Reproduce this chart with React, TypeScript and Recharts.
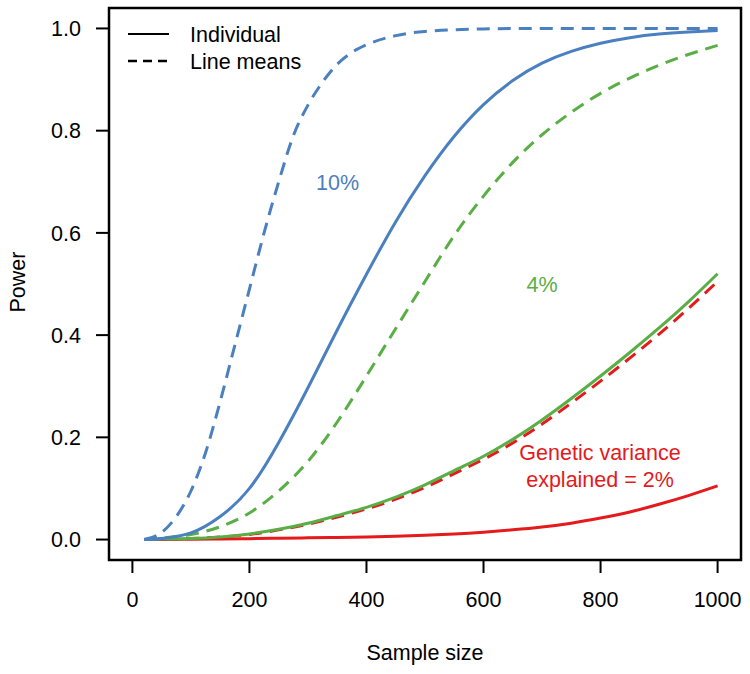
import React from 'react';
import { LineChart, Line, XAxis, YAxis, ReferenceArea, Customized } from 'recharts';

// Sample sizes (fine grid for the steep 10% line-means curve)
const sizesFine = [20, 50, 75, 100, 125, 150, 175, 200, 225, 250, 275, 300, 325, 350, 375, 400, 450, 500, 600, 700, 800, 900, 1000];
const sizes = [20, 50, 100, 150, 200, 250, 300, 350, 400, 450, 500, 550, 600, 650, 700, 750, 800, 850, 900, 950, 1000];

// 10% genetic variance explained
const blueLineMeans = [0, 0.014, 0.045, 0.095, 0.17, 0.27, 0.38, 0.49, 0.6, 0.7, 0.79, 0.85, 0.895, 0.93, 0.953, 0.968, 0.986, 0.994, 0.999, 1, 1, 1, 1];
const blueIndividual = [0, 0.002, 0.013, 0.045, 0.1, 0.19, 0.297, 0.41, 0.519, 0.622, 0.712, 0.789, 0.851, 0.898, 0.932, 0.955, 0.971, 0.982, 0.989, 0.993, 0.996];

// 4% genetic variance explained
const greenLineMeans = [0, 0.003, 0.01, 0.025, 0.052, 0.095, 0.153, 0.23, 0.32, 0.413, 0.505, 0.595, 0.672, 0.738, 0.792, 0.836, 0.873, 0.903, 0.928, 0.949, 0.967];
const greenIndividual = [0, 0.001, 0.002, 0.005, 0.011, 0.02, 0.032, 0.047, 0.063, 0.083, 0.107, 0.135, 0.163, 0.196, 0.234, 0.276, 0.32, 0.366, 0.414, 0.465, 0.52];

// 2% genetic variance explained
const redLineMeans = [0, 0.001, 0.002, 0.005, 0.01, 0.019, 0.03, 0.044, 0.06, 0.079, 0.102, 0.129, 0.157, 0.189, 0.226, 0.267, 0.31, 0.355, 0.402, 0.452, 0.505];
const redIndividual = [0, 0, 0.0005, 0.001, 0.0017, 0.0025, 0.0033, 0.004, 0.005, 0.0065, 0.0085, 0.011, 0.0145, 0.019, 0.0245, 0.032, 0.042, 0.054, 0.069, 0.086, 0.105];

const xTicks = [0, 200, 400, 600, 800, 1000];
const yTicks = [0, 0.2, 0.4, 0.6, 0.8, 1.0];

const BLUE = '#4A80C0';
const GREEN = '#59AE45';
const RED = '#E41A1C';
const FONT = '"Liberation Sans", Arial, sans-serif';
const FS = 21.5;

const mk = (xs: number[], ys: number[]) => xs.map((x, i) => ({ x, y: ys[i] }));

const Annotations = () => (
  <g fontFamily={FONT} fontSize={FS}>
    {/* legend */}
    <line x1={128} x2={169} y1={34} y2={34} stroke="#000" strokeWidth={2} />
    <line x1={128} x2={169} y1={61} y2={61} stroke="#000" strokeWidth={2.5} strokeDasharray="9 6" />
    <text x={190} y={42} fill="#000">Individual</text>
    <text x={190} y={69} fill="#000">Line means</text>
    {/* curve labels */}
    <text x={337.5} y={190} fill={BLUE} textAnchor="middle">10%</text>
    <text x={542} y={292} fill={GREEN} textAnchor="middle">4%</text>
    <text x={600} y={460} fill={RED} textAnchor="middle">Genetic variance</text>
    <text x={600} y={486.5} fill={RED} textAnchor="middle">explained = 2%</text>
    {/* axis titles */}
    <text x={425} y={660} fill="#000" textAnchor="middle">Sample size</text>
    <text x={25} y={282} fill="#000" textAnchor="middle" transform="rotate(-90 25 282)">Power</text>
  </g>
);

export default function App() {
  return (
    <div style={{ position: 'absolute', left: 0, top: 0 }}>
      <LineChart width={750} height={674} margin={{ top: 8, right: 9, left: 0, bottom: 0 }}>
        <XAxis
          dataKey="x"
          type="number"
          domain={[-40, 1040]}
          ticks={xTicks}
          allowDataOverflow
          axisLine={false}
          tickSize={13}
          tickMargin={19}
          height={114}
          tickLine={{ stroke: '#000', strokeWidth: 2 }}
          tick={{ fill: '#000', fontSize: FS, fontFamily: FONT }}
          interval={0}
        />
        <YAxis
          type="number"
          domain={[-0.04, 1.04]}
          ticks={yTicks}
          allowDataOverflow
          axisLine={false}
          tickSize={13}
          tickMargin={15}
          width={109}
          tickLine={{ stroke: '#000', strokeWidth: 2 }}
          tick={{ fill: '#000', fontSize: FS, fontFamily: FONT }}
          tickFormatter={(v: number) => v.toFixed(1)}
          interval={0}
        />
        <Line data={mk(sizes, redIndividual)} dataKey="y" type="natural" stroke={RED} strokeWidth={3} dot={false} isAnimationActive={false} />
        <Line data={mk(sizes, redLineMeans)} dataKey="y" type="natural" stroke={RED} strokeWidth={3} strokeDasharray="13 8" dot={false} isAnimationActive={false} />
        <Line data={mk(sizes, greenLineMeans)} dataKey="y" type="natural" stroke={GREEN} strokeWidth={3} strokeDasharray="13 8" dot={false} isAnimationActive={false} />
        <Line data={mk(sizes, greenIndividual)} dataKey="y" type="natural" stroke={GREEN} strokeWidth={3} dot={false} isAnimationActive={false} />
        <Line data={mk(sizes, blueIndividual)} dataKey="y" type="natural" stroke={BLUE} strokeWidth={3} dot={false} isAnimationActive={false} />
        <Line data={mk(sizesFine, blueLineMeans)} dataKey="y" type="monotone" stroke={BLUE} strokeWidth={3} strokeDasharray="13 8" dot={false} isAnimationActive={false} />
        <ReferenceArea x1={-40} x2={1040} y1={-0.04} y2={1.04} fill="none" stroke="#000" strokeWidth={2.5} ifOverflow="visible" />
        <Customized component={Annotations} />
      </LineChart>
    </div>
  );
}
